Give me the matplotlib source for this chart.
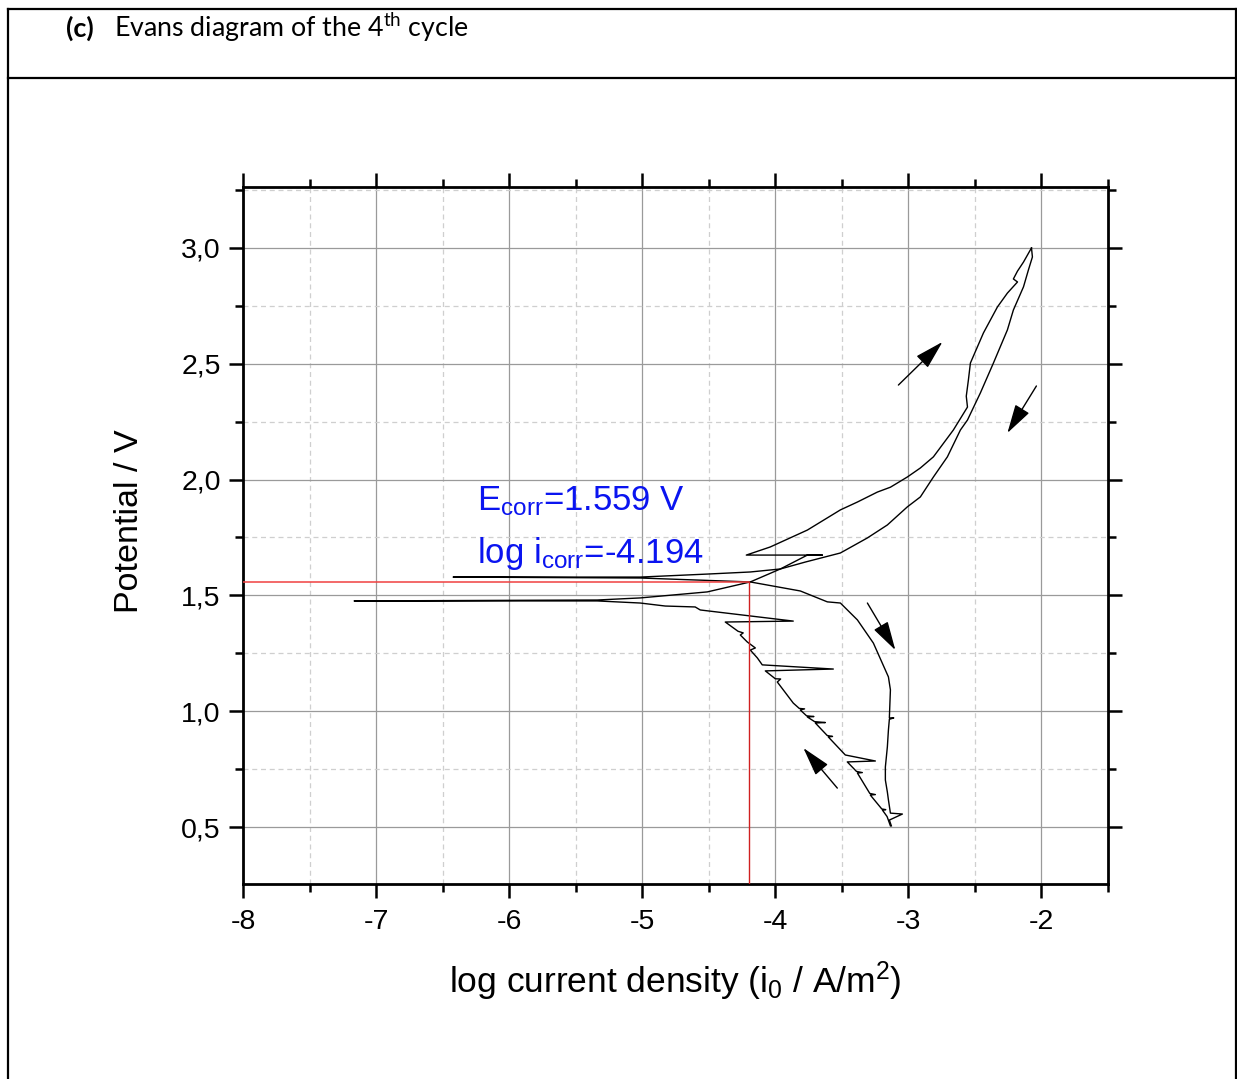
import matplotlib
matplotlib.use("Agg")
import matplotlib.pyplot as plt
from matplotlib.lines import Line2D
from matplotlib.ticker import MultipleLocator, FixedLocator

plt.rcParams['font.family'] = ['Liberation Sans', 'DejaVu Sans']
plt.rcParams['axes.unicode_minus'] = False

# ---------------- data (log i in log(A/m2), E in V) ----------------
# forward scan 0.5 V -> 3.0 V
fwd_logi = [-3.135, -3.16, -3.195, -3.17, -3.20, -3.286, -3.248, -3.29,
            -3.383, -3.346, -3.39, -3.459, -3.248, -3.474, -3.602, -3.57, -3.61,
            -3.699, -3.624, -3.705, -3.759, -3.71, -3.765, -3.812, -3.78, -3.82,
            -3.865, -3.985, -3.96, -4.00, -4.075, -3.564, -4.098, -4.135,
            -4.188, -4.15, -4.211, -4.263, -4.241, -4.28, -4.376, -3.865, -4.564,
            -4.602, -4.827, -5.015, -5.338, -7.165, -5.338, -5.015, -4.511,
            -4.188, -3.962, -3.759, -3.647, -4.218, -4.038, -3.759, -3.511,
            -3.383, -3.233, -3.135, -3.008, -2.910, -2.812, -2.662, -2.556,
            -2.565, -2.549, -2.534, -2.436, -2.331, -2.256, -2.180, -2.211,
            -2.180, -2.135, -2.075]
fwd_E = [0.505, 0.545, 0.573, 0.575, 0.578, 0.638, 0.640, 0.645,
         0.733, 0.735, 0.740, 0.781, 0.785, 0.811, 0.889, 0.891, 0.895,
         0.949, 0.951, 0.955, 0.975, 0.977, 0.980, 1.005, 1.010, 1.012,
         1.035, 1.126, 1.139, 1.140, 1.174, 1.182, 1.200, 1.230,
         1.264, 1.273, 1.299, 1.329, 1.338, 1.345, 1.385, 1.389, 1.437,
         1.450, 1.454, 1.467, 1.476, 1.476, 1.480, 1.489, 1.515,
         1.558, 1.614, 1.674, 1.674, 1.674, 1.709, 1.782, 1.869,
         1.903, 1.946, 1.967, 2.011, 2.050, 2.098, 2.214, 2.313,
         2.360, 2.430, 2.503, 2.633, 2.745, 2.805, 2.853, 2.866,
         2.900, 2.939, 3.000]

# reverse scan 3.0 V -> 0.5 V
rev_logi = [-2.075, -2.068, -2.098, -2.135, -2.211, -2.256, -2.361, -2.459,
            -2.556, -2.609, -2.707, -2.812, -2.910, -3.008, -3.158, -3.308,
            -3.511, -3.774, -3.962, -4.188, -4.511, -5.015, -6.421, -5.015,
            -4.188, -3.812, -3.609, -3.511, -3.383, -3.263, -3.150, -3.135,
            -3.143, -3.11, -3.143, -3.150, -3.158, -3.173, -3.173, -3.158,
            -3.150, -3.135, -3.045, -3.143, -3.128]
rev_E = [3.000, 2.961, 2.905, 2.832, 2.732, 2.646, 2.503, 2.374,
         2.257, 2.214, 2.098, 2.011, 1.925, 1.882, 1.804, 1.748,
         1.683, 1.644, 1.614, 1.601, 1.592, 1.579, 1.579, 1.575,
         1.558, 1.519, 1.472, 1.467, 1.394, 1.294, 1.148, 1.092,
         0.971, 0.971, 0.965, 0.919, 0.846, 0.759, 0.703, 0.651,
         0.617, 0.560, 0.556, 0.530, 0.505]

E_corr = 1.559
log_icorr = -4.194

xticks = [-8, -7, -6, -5, -4, -3, -2]
xtick_labels = ['-8', '-7', '-6', '-5', '-4', '-3', '-2']
yticks = [0.5, 1.0, 1.5, 2.0, 2.5, 3.0]
ytick_labels = ['0,5', '1,0', '1,5', '2,0', '2,5', '3,0']

# scan-direction arrows: (tail log i, tail E, head log i, head E)
arrows = [(-3.075, 2.408, -2.744, 2.594),
          (-2.038, 2.404, -2.256, 2.201),
          (-3.308, 1.467, -3.098, 1.264),
          (-3.534, 0.668, -3.789, 0.841)]

# ---------------- figure ----------------
W, H = 1237, 1079
fig = plt.figure(figsize=(W / 100, H / 100), dpi=100)

def px(x, y):
    return x / W, 1 - y / H

# page frame
for (x0, y0, x1, y1) in [(8, 9, 1236, 9), (8, 77.5, 1236, 77.5),
                         (8, 9, 8, 1079), (1235.5, 9, 1235.5, 1079)]:
    a, b = px(x0, y0)
    c, d = px(x1, y1)
    fig.add_artist(Line2D([a, c], [b, d], color='black', lw=1.6,
                          transform=fig.transFigure))

fx, fy = px(66, 37)
fig.text(fx, fy, '(c)', fontfamily='Lato', fontweight='bold', fontsize=19.5,
         va='baseline', ha='left')
fx, fy = px(114, 37)
fig.text(fx, fy, r'Evans diagram of the 4$\mathregular{^{th}}$ cycle',
         fontfamily='Lato', fontsize=19.3, va='baseline', ha='left')

l, b = px(243, 884)
r, t = px(1108, 187)
ax = fig.add_axes([l, b, r - l, t - b])

ax.plot(fwd_logi, fwd_E, color='black', lw=1.0)
ax.plot(rev_logi, rev_E, color='black', lw=1.0)

ax.set_xlim(-8, -1.5)
ax.set_ylim(0.254, 3.263)

# corrosion lines
ax.plot([-8, log_icorr], [E_corr, E_corr], color='#f04040', lw=1.1, zorder=3)
ax.plot([log_icorr, log_icorr], [0.254, E_corr], color='#d02020', lw=1.0, zorder=3)

for (x0, y0, x1, y1) in arrows:
    ax.annotate('', xy=(x1, y1), xytext=(x0, y0),
                arrowprops=dict(arrowstyle='-|>,head_length=1.0,head_width=0.28',
                                mutation_scale=18, color='black', lw=1.0,
                                shrinkA=0, shrinkB=0))

ax.text(-6.241, 1.869, r'$\mathregular{E_{corr}}$=1.559 V', color='#0a14f0',
        fontsize=25, ha='left', va='baseline')
ax.text(-6.241, 1.640, r'log $\mathregular{i_{corr}}$=-4.194', color='#0a14f0',
        fontsize=25, ha='left', va='baseline')

ax.xaxis.set_major_locator(FixedLocator(xticks))
ax.set_xticklabels(xtick_labels)
ax.xaxis.set_minor_locator(MultipleLocator(0.5))
ax.yaxis.set_major_locator(FixedLocator(yticks))
ax.set_yticklabels(ytick_labels)
ax.yaxis.set_minor_locator(MultipleLocator(0.25))

ax.grid(which='major', color='#9a9a9a', lw=0.9, ls='-')
ax.grid(which='minor', color='#cfcfcf', lw=0.9, ls=(0, (4, 3)))
ax.set_axisbelow(True)

for s in ax.spines.values():
    s.set_linewidth(2.0)
ax.tick_params(which='both', direction='out', top=True, right=True,
               width=1.8, labelsize=20.5)
ax.tick_params(which='major', length=10)
ax.tick_params(which='minor', length=5.5)
ax.tick_params(axis='x', which='major', pad=8)
ax.tick_params(axis='y', which='major', pad=6)

ax.set_xlabel(r'log current density (i$\mathregular{_0}$ / A/m$\mathregular{^2}$)',
              fontsize=25.5)
ax.set_ylabel('Potential / V', fontsize=24.5)
ax.xaxis.set_label_coords(0.5, -0.108)
ax.yaxis.set_label_coords(-0.113, 0.521)

fig.savefig('out.png', dpi=100, facecolor='white')
